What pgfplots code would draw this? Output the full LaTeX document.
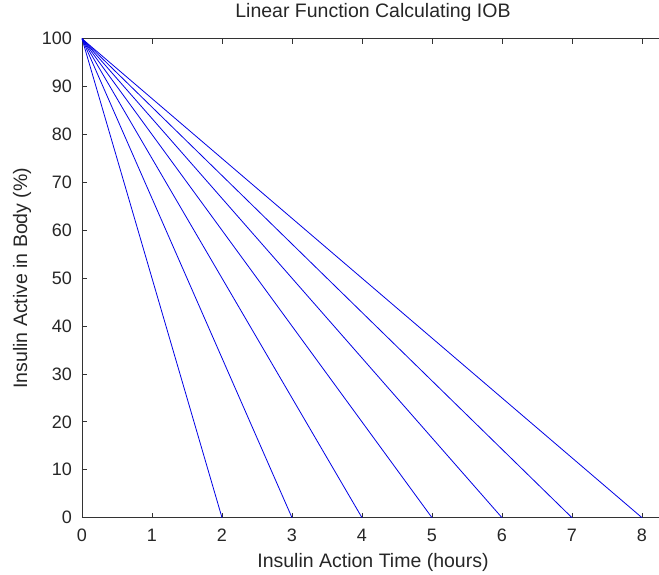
\documentclass[border=0pt]{standalone}
\usepackage{pgfplots}
\pgfplotsset{compat=1.18}
\usepackage{fontspec}
\setmainfont{Liberation Sans}

\begin{document}
\begin{tikzpicture}
% page frame: room for the labels around the plot area
\useasboundingbox (-82pt,-57.3pt) rectangle (577pt,517.7pt);
\begin{axis}[
  scale only axis,
  width=577pt, height=479pt,
  xmin=0, xmax=8.243,
  ymin=0, ymax=100,
  axis x line=box,
  axis y line*=left,
  axis line style={line width=0.9pt, black!80},
  xtick={0,1,...,8},
  ytick={0,10,...,100},
  tick style={line width=0.8pt, black!80},
  major tick length=5pt,
  /pgf/number format/assume math mode=true,
  tick label style={font=\fontsize{18}{21}\selectfont, text=black!85},
  xticklabel style={anchor=base, inner sep=0pt, yshift=-24pt},
  yticklabel style={anchor=east, inner sep=0pt, xshift=-10pt},
  title={Linear Function Calculating IOB},
  title style={at={(axis description cs:0.5043,1.031)}, anchor=base,
    inner sep=0pt, font=\fontsize{19.5}{23}\selectfont, text=black!85},
  xlabel={Insulin Action Time (hours)},
  xlabel style={at={(axis description cs:0.5043,-0.1044)}, anchor=base,
    inner sep=0pt, font=\fontsize{19.5}{23}\selectfont, text=black!85},
  ylabel={Insulin Active in Body (\%)},
  ylabel style={at={(axis description cs:-0.0953,0.5)}, anchor=base,
    inner sep=0pt, font=\fontsize{19.5}{23}\selectfont, text=black!85},
]
% one line per insulin action time (2 to 8 hours)
\addplot[blue!90!black, line width=0.8pt] coordinates {(0,100) (2,0)};
\addplot[blue!90!black, line width=0.8pt] coordinates {(0,100) (3,0)};
\addplot[blue!90!black, line width=0.8pt] coordinates {(0,100) (4,0)};
\addplot[blue!90!black, line width=0.8pt] coordinates {(0,100) (5,0)};
\addplot[blue!90!black, line width=0.8pt] coordinates {(0,100) (6,0)};
\addplot[blue!90!black, line width=0.8pt] coordinates {(0,100) (7,0)};
\addplot[blue!90!black, line width=0.8pt] coordinates {(0,100) (8,0)};
\end{axis}
\end{tikzpicture}
\end{document}
